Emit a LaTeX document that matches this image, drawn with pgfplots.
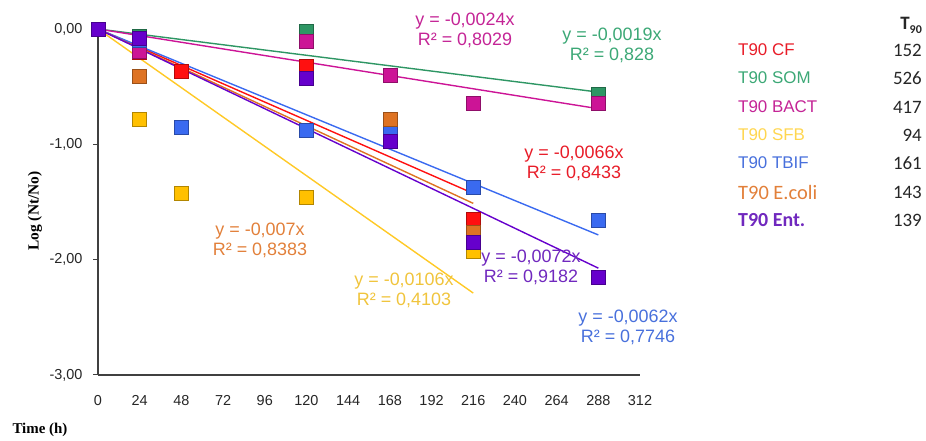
\documentclass[border=0pt]{standalone}
\usepackage{pgfplots}
\pgfplotsset{compat=1.18}
\usepackage{fontspec}
\setmainfont{Liberation Sans}
\newfontfamily\timesfont{Liberation Serif}
\newfontfamily\calibri{Carlito}

% series colours
\definecolor{cCF}{RGB}{255,16,16}
\definecolor{cSOM}{RGB}{46,150,100}
\definecolor{cBACT}{RGB}{204,20,150}
\definecolor{cSFB}{RGB}{255,192,0}
\definecolor{cTBIF}{RGB}{58,106,240}
\definecolor{cECO}{RGB}{222,115,35}
\definecolor{cENT}{RGB}{102,0,204}
% text colours
\definecolor{tCF}{RGB}{232,28,40}
\definecolor{tSOM}{RGB}{60,168,118}
\definecolor{tBACT}{RGB}{196,36,150}
\definecolor{tSFB}{RGB}{240,196,60}
\definecolor{tSFBleg}{RGB}{255,214,80}
\definecolor{tTBIF}{RGB}{72,112,220}
\definecolor{tECO}{RGB}{226,128,58}
\definecolor{tENT}{RGB}{112,40,190}
\definecolor{axisgray}{RGB}{64,64,64}

\pgfplotsset{
  sq/.style={only marks, mark=square*, mark size=7bp,
    mark options={fill=#1, draw=#1!70!black, line width=0.5bp}},
  trend/.style={#1, line width=1.4bp, no marks},
}

\newcommand{\eqfont}{\fontsize{18}{20}\selectfont}
\newcommand{\legfont}{\fontsize{17}{20}\selectfont}

\begin{document}
\begin{tikzpicture}[x=1bp,y=1bp]
\begin{axis}[
  at={(98bp,66bp)}, anchor=south west,
  scale only axis, width=542bp, height=346bp,
  xmin=0, xmax=312, ymin=-3, ymax=0,
  axis lines=left,
  axis line style={-, draw=axisgray, line width=1.4bp},
  clip=false,
  xtick={0,24,...,312},
  ytick={-3,-2,-1,0},
  x tick style={draw=none},
  y tick style={draw=axisgray, line width=1bp},
  tick align=outside,
  major tick length=5bp,
  /pgf/number format/assume math mode=true,
  ticklabel style={font=\fontsize{14.5}{16}\selectfont, text=black!85},
  xticklabel style={yshift=-12bp},
  yticklabel style={xshift=-7bp,
    /pgf/number format/fixed, /pgf/number format/fixed zerofill,
    /pgf/number format/precision=2, /pgf/number format/use comma},
]
% measured values
\addplot[sq=cCF]   coordinates {(0,0) (24,-0.20) (48,-0.37) (120,-0.32) (216,-1.65)};
\addplot[sq=cSOM]  coordinates {(0,0) (24,-0.06) (120,-0.02) (288,-0.57)};
\addplot[sq=cBACT] coordinates {(0,0) (24,-0.19) (120,-0.11) (168,-0.40) (216,-0.645) (288,-0.645)};
\addplot[sq=cSFB]  coordinates {(0,0) (24,-0.78) (48,-1.42) (120,-1.46) (216,-1.93)};
\addplot[sq=cTBIF] coordinates {(0,0) (24,-0.10) (48,-0.85) (120,-0.88) (168,-0.87) (216,-1.37) (288,-1.66)};
\addplot[sq=cECO]  coordinates {(0,0) (24,-0.41) (168,-0.78) (216,-1.76)};
\addplot[sq=cENT]  coordinates {(0,0) (24,-0.08) (120,-0.43) (168,-0.97) (216,-1.85) (288,-2.15)};
% linear trend lines through the origin
\addplot[trend=cCF]   coordinates {(0,0) (216,-1.4256)};
\addplot[trend=cSOM]  coordinates {(0,0) (288,-0.5472)};
\addplot[trend=cBACT] coordinates {(0,0) (288,-0.6912)};
\addplot[trend=cSFB!85!white]  coordinates {(0,0) (216,-2.2896)};
\addplot[trend=cTBIF] coordinates {(0,0) (288,-1.7856)};
\addplot[trend=cECO]  coordinates {(0,0) (216,-1.512)};
\addplot[trend=cENT]  coordinates {(0,0) (288,-2.0736)};
\end{axis}

% axis titles
\node[rotate=90, font=\timesfont\bfseries\fontsize{15.5}{17}\selectfont] at (35,230) {Log (Nt/No)};
\node[font=\timesfont\bfseries\fontsize{15}{17}\selectfont] at (40,11) {Time (h)};

% trend line equations
\begin{scope}[every node/.style={font=\eqfont, align=center, inner sep=0pt}]
\node[text=tBACT] at (465,410.5) {y = -0,0024x\\R² = 0,8029};
\node[text=tSOM]  at (612,395.5) {y = -0,0019x\\R² = 0,828};
\node[text=tCF]   at (574,278) {y = -0,0066x\\R² = 0,8433};
\node[text=tECO]  at (260,201) {y = -0,007x\\R² = 0,8383};
\node[text=tSFB]  at (404,150.5) {y = -0,0106x\\R² = 0,4103};
\node[text=tENT]  at (531,174) {y = -0,0072x\\R² = 0,9182};
\node[text=tTBIF] at (628,114) {y = -0,0062x\\R² = 0,7746};
\end{scope}

% T90 table
\begin{scope}[every node/.style={font=\legfont, inner sep=0pt}]
\node[anchor=east, font=\calibri\bfseries\fontsize{19}{20}\selectfont, text=black!85] at (922,416)
  {T\raisebox{-0.45ex}{\fontsize{12}{12}\selectfont 90}};
\node[anchor=west, text=tCF]     at (738,391) {T90 CF};
\node[anchor=west, text=tSOM]    at (738,363) {T90 SOM};
\node[anchor=west, text=tBACT]   at (738,334) {T90 BACT};
\node[anchor=west, text=tSFBleg] at (738,306) {T90 SFB};
\node[anchor=west, text=tTBIF]   at (738,278) {T90 TBIF};
\node[anchor=west, text=tECO, font=\calibri\fontsize{20.5}{22}\selectfont] at (738,249) {T90 E.coli};
\node[anchor=west, text=tENT, font=\calibri\bfseries\fontsize{20}{22}\selectfont] at (738,221) {T90 Ent.};
\begin{scope}[every node/.append style={anchor=east, font=\calibri\fontsize{19}{20}\selectfont, text=black!85}]
\node at (922,391) {152};
\node at (922,363) {526};
\node at (922,334) {417};
\node at (922,306) {94};
\node at (922,278) {161};
\node at (922,249) {143};
\node at (922,221) {139};
\end{scope}
\end{scope}

\pgfresetboundingbox
\useasboundingbox (0,0) rectangle (926,441);
\end{tikzpicture}
\end{document}
